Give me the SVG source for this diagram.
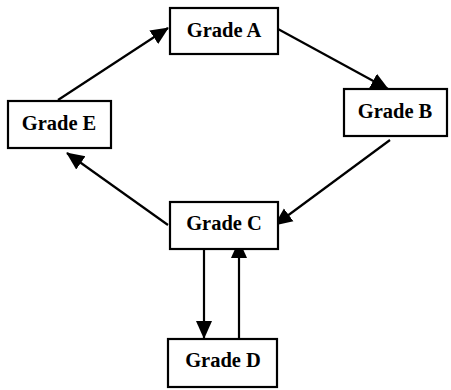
<svg xmlns="http://www.w3.org/2000/svg" width="451" height="390" viewBox="0 0 451 390">
<style>
.box{fill:#fff;stroke:#000;stroke-width:2.2}
.lbl{font-family:"Liberation Serif","Times New Roman",serif;font-weight:bold;font-size:20.5px;fill:#000;text-anchor:middle}
.edge{stroke:#000;stroke-width:2.2;fill:none;marker-end:url(#ah)}
</style>
<defs>
<marker id="ah" markerUnits="userSpaceOnUse" markerWidth="19" markerHeight="19" viewBox="0 0 19 19" refX="17" refY="9.5" orient="auto">
<path d="M0,1.5 L18,9.5 L0,17.5 Z" fill="#000"/>
</marker>
</defs>
<rect width="451" height="390" fill="#fff"/>
<g id="connectors">
<line class="edge" x1="58" y1="100" x2="168" y2="28"/>
<line class="edge" x1="278" y1="29" x2="388" y2="89"/>
<line class="edge" x1="390" y1="140" x2="275" y2="225"/>
<line class="edge" x1="168" y1="225" x2="67" y2="153"/>
<line class="edge" x1="204" y1="250" x2="204" y2="338"/>
<line class="edge" x1="239" y1="339" x2="239" y2="241"/>
</g>
<g id="gradeA"><rect class="box" x="170" y="8" width="108" height="46"/><text class="lbl" x="224" y="37">Grade A</text></g>
<g id="gradeB"><rect class="box" x="344" y="89" width="103" height="47"/><text class="lbl" x="395" y="118">Grade B</text></g>
<g id="gradeE"><rect class="box" x="8" y="101" width="103" height="47"/><text class="lbl" x="59" y="130">Grade E</text></g>
<g id="gradeC"><rect class="box" x="170" y="202" width="108" height="47"/><text class="lbl" x="224" y="230">Grade C</text></g>
<g id="gradeD"><rect class="box" x="168" y="339" width="109" height="48"/><text class="lbl" x="223" y="367">Grade D</text></g>
</svg>
